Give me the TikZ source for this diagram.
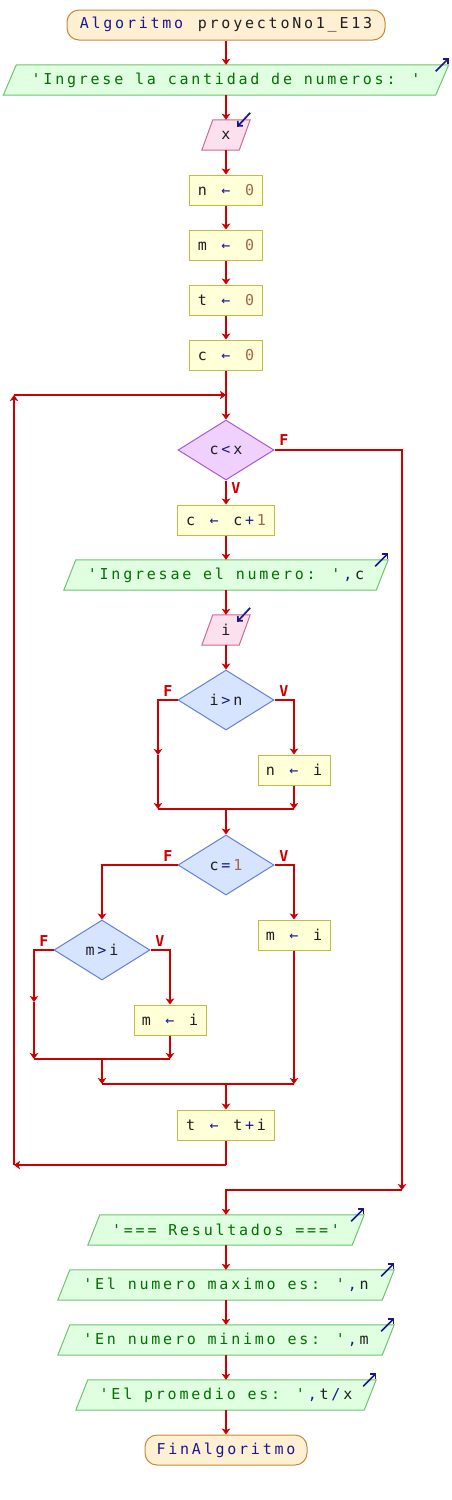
\documentclass[tikz,border=0pt]{standalone}
\usepackage{fontspec}
\newfontfamily\mono[LetterSpace=18.5]{DejaVu Sans Mono}
\usetikzlibrary{shapes.geometric,arrows.meta}
\definecolor{cred}{RGB}{204,0,0}
\definecolor{navy}{RGB}{24,24,140}
\definecolor{strg}{RGB}{0,112,0}
\definecolor{numc}{RGB}{168,100,72}
\definecolor{txtc}{RGB}{30,30,30}
\definecolor{termF}{RGB}{255,240,212}
\definecolor{termB}{RGB}{200,136,56}
\definecolor{outF}{RGB}{224,255,224}
\definecolor{outB}{RGB}{110,196,110}
\definecolor{inF}{RGB}{252,224,238}
\definecolor{inB}{RGB}{208,104,150}
\definecolor{asgF}{RGB}{255,255,216}
\definecolor{asgB}{RGB}{196,188,64}
\definecolor{dbF}{RGB}{214,228,255}
\definecolor{dbB}{RGB}{100,128,216}
\definecolor{dvF}{RGB}{240,208,255}
\definecolor{dvB}{RGB}{168,90,210}
\pgfdeclarelayer{bg}
\pgfsetlayers{bg,main}
\newcommand\K{\kern2.8pt}
\newcommand\outshape[2]{\draw[outsh] ([xshift=#2]#1.north west) -- (#1.north east) -- ([xshift=-#2]#1.south east) -- (#1.south west) -- cycle;}
\newcommand\inshape[2]{\draw[insh] ([xshift=#2]#1.north west) -- (#1.north east) -- ([xshift=-#2]#1.south east) -- (#1.south west) -- cycle;}
\begin{document}
\begin{tikzpicture}[x=1pt,y=-1pt,
  basefont/.style={font=\fontsize{15}{17}\selectfont\mono, text=txtc},
  term/.style={basefont, draw=termB, fill=termF, line width=1pt, rounded corners=12pt, minimum height=30pt, inner sep=0pt},
  outp/.style={basefont, minimum height=30pt, inner sep=0pt},
  inp/.style={basefont, minimum height=30pt, inner sep=0pt},
  outsh/.style={draw=outB, fill=outF, line width=1pt},
  insh/.style={draw=inB, fill=inF, line width=1pt},
  asg/.style={basefont, draw=asgB, fill=asgF, line width=1pt, minimum height=30pt, inner sep=0pt},
  dbl/.style={basefont, diamond, aspect=1.6, draw=dbB, fill=dbF, line width=1pt, minimum width=96pt, minimum height=60pt, inner sep=0pt},
  dvl/.style={basefont, diamond, aspect=1.6, draw=dvB, fill=dvF, line width=1pt, minimum width=96pt, minimum height=60pt, inner sep=0pt},
  flow/.style={draw=cred, line width=2pt, -{Stealth[length=6pt,width=8.5pt,inset=1.5pt]}},
  seg/.style={draw=cred, line width=2pt},
  lbl/.style={font=\fontsize{15}{17}\selectfont\mono\bfseries, text=cred, inner sep=0pt},
  icon/.style={draw=navy, line width=1.7pt, -{Straight Barb[length=3.5pt,width=7pt]}}
]
\useasboundingbox (0,0) rectangle (452,1500);

% nodes
\node[term, minimum width=318pt] (start) at (226,25) {\textcolor{navy}{Algoritmo}\K\ proyectoNo1\_E13};
\node[outp, minimum width=445pt] (o1) at (226,80) {\textcolor{strg}{'Ingrese la cantidad de numeros: '}};
\node[inp, minimum width=48pt] (i1) at (226,135) {x};
\node[asg, minimum width=73pt] (a1) at (226,190) {n\K\ \textcolor{navy}{←}\K\ \textcolor{numc}{0}};
\node[asg, minimum width=73pt] (a2) at (226,245) {m\K\ \textcolor{navy}{←}\K\ \textcolor{numc}{0}};
\node[asg, minimum width=73pt] (a3) at (226,300) {t\K\ \textcolor{navy}{←}\K\ \textcolor{numc}{0}};
\node[asg, minimum width=73pt] (a4) at (226,355) {c\K\ \textcolor{navy}{←}\K\ \textcolor{numc}{0}};
\node[dvl] (d1) at (226,450) {c\K\textcolor{navy}{<}\K x};
\node[asg, minimum width=97pt] (c1) at (226,520) {c\K\ \textcolor{navy}{←}\K\ c\K\textcolor{navy}{+}\K\textcolor{numc}{1}};
\node[outp, minimum width=324pt] (o2) at (226,575) {\textcolor{strg}{'Ingresae el numero: '}\K\textcolor{navy}{,}\K c};
\node[inp, minimum width=48pt] (i2) at (226,630) {i};
\node[dbl] (d2) at (226,700) {i\K\textcolor{navy}{>}\K n};
\node[asg, minimum width=72pt] (a5) at (294,770) {n\K\ \textcolor{navy}{←}\K\ i};
\node[dbl] (d3) at (226,865) {c\K\textcolor{navy}{=}\K\textcolor{numc}{1}};
\node[asg, minimum width=72pt] (a6) at (294,935) {m\K\ \textcolor{navy}{←}\K\ i};
\node[dbl] (d4) at (102,950) {m\K\textcolor{navy}{>}\K i};
\node[asg, minimum width=72pt] (a7) at (170,1020) {m\K\ \textcolor{navy}{←}\K\ i};
\node[asg, minimum width=97pt] (tt) at (226,1125) {t\K\ \textcolor{navy}{←}\K\ t\K\textcolor{navy}{+}\K i};
\node[outp, minimum width=276pt] (o3) at (226,1230) {\textcolor{strg}{'=== Resultados ==='}};
\node[outp, minimum width=336pt] (o4) at (226,1285) {\textcolor{strg}{'El numero maximo es: '}\K\textcolor{navy}{,}\K n};
\node[outp, minimum width=336pt] (o5) at (226,1340) {\textcolor{strg}{'En numero minimo es: '}\K\textcolor{navy}{,}\K m};
\node[outp, minimum width=300pt] (o6) at (226,1395) {\textcolor{strg}{'El promedio es: '}\K\textcolor{navy}{,}\K t\K\textcolor{navy}{/}\K x};
\node[term, minimum width=162pt] (fin) at (226,1450) {\textcolor{navy}{FinAlgoritmo}};

% shapes of input/output
\begin{pgfonlayer}{bg}
\outshape{o1}{13}
\outshape{o2}{12}
\outshape{o3}{12}
\outshape{o4}{12}
\outshape{o5}{12}
\outshape{o6}{12}
\inshape{i1}{11}
\inshape{i2}{11}
\end{pgfonlayer}

% icons
\foreach \n in {o1,o2,o3,o4,o5,o6}{
  \draw[icon] ([shift={(-13,6.5)}]\n.north east) -- ([shift={(0,-6.5)}]\n.north east);
}
\foreach \n in {i1,i2}{
  \draw[icon] ([shift={(0,-7)}]\n.north east) -- ([shift={(-13,7)}]\n.north east);
}

% coordinates
\coordinate (jtop) at (226,395);
\coordinate (lb1) at (226,1165);
\coordinate (lb2) at (14,1165);
\coordinate (lb3) at (14,395);
\coordinate (fr1) at (402,450);
\coordinate (fr2) at (402,1190);
\coordinate (fr3) at (226,1190);
\coordinate (f1) at (158,755);
\coordinate (f2) at (158,809);
\coordinate (v2) at (294,809);
\coordinate (m1) at (226,809);
\coordinate (f4a) at (34,1002);
\coordinate (f4b) at (34,1059);
\coordinate (v4b) at (170,1059);
\coordinate (m4) at (102,1059);
\coordinate (m4b) at (102,1084);
\coordinate (v3b) at (294,1084);
\coordinate (m3) at (226,1084);

% connectors
\draw[flow] (start.south) -- (o1.north);
\draw[flow] (o1.south) -- (i1.north);
\draw[flow] (i1.south) -- (a1.north);
\draw[flow] (a1.south) -- (a2.north);
\draw[flow] (a2.south) -- (a3.north);
\draw[flow] (a3.south) -- (a4.north);
\draw[flow] (a4.south) -- (d1.north);
\draw[flow] (d1.south) -- (c1.north);
\draw[flow] (c1.south) -- (o2.north);
\draw[flow] (o2.south) -- (i2.north);
\draw[flow] (i2.south) -- (d2.north);
% loop back
\draw[seg] (tt.south) -- (lb1);
\draw[flow] (lb1) -- (lb2);
\draw[flow] (lb2) -- (lb3);
\draw[flow] (lb3) -- (jtop);
% exit of loop
\draw[flow] (d1.east) -- (fr1) -- (fr2);
\draw[flow] (fr2) -- (fr3) -- (o3.north);
% i>n
\draw[flow] (d2.west) -| (f1);
\draw[flow] (f1) -- (f2);
\draw[flow] (d2.east) -| (a5.north);
\draw[flow] (a5.south) -- (v2);
\draw[seg] (f2) -- (v2);
\draw[flow] (m1) -- (d3.north);
% c=1
\draw[flow] (d3.west) -| (d4.north);
\draw[flow] (d3.east) -| (a6.north);
% m>i
\draw[flow] (d4.west) -| (f4a);
\draw[flow] (f4a) -- (f4b);
\draw[flow] (d4.east) -| (a7.north);
\draw[flow] (a7.south) -- (v4b);
\draw[seg] (f4b) -- (v4b);
\draw[flow] (m4) -- (m4b);
\draw[flow] (a6.south) -- (v3b);
\draw[seg] (m4b) -- (v3b);
\draw[flow] (m3) -- (tt.north);
% outputs at end
\draw[flow] (o3.south) -- (o4.north);
\draw[flow] (o4.south) -- (o5.north);
\draw[flow] (o5.south) -- (o6.north);
\draw[flow] (o6.south) -- (fin.north);

% labels
\node[lbl] (l1) at (284,440) {F};
\node[lbl] (l2) at (236,488) {V};
\node[lbl] (l3) at (168,691) {F};
\node[lbl] (l4) at (284,691) {V};
\node[lbl] (l5) at (168,856) {F};
\node[lbl] (l6) at (284,856) {V};
\node[lbl] (l7) at (44,941) {F};
\node[lbl] (l8) at (160,941) {V};
\end{tikzpicture}
\end{document}
